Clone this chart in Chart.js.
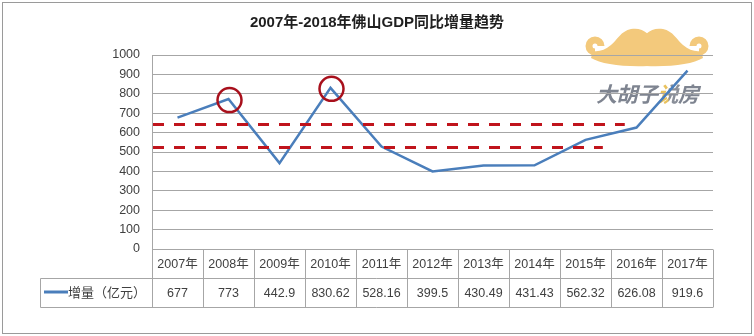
<!DOCTYPE html>
<html>
<head>
<meta charset="utf-8">
<script src="https://cdn.jsdelivr.net/npm/chart.js@4"></script>
<style>
    body { margin: 0; background: #fff; }
    #wrap { width: 754px; height: 336px; }
</style>
</head>
<body>
<div id="wrap"><canvas id="gdpChart" width="754" height="336"></canvas></div>
<script>
// Foshan GDP yearly increment (100 million yuan)
var years = ['2007年', '2008年', '2009年', '2010年', '2011年', '2012年', '2013年', '2014年', '2015年', '2016年', '2017年'];
var increments = [677, 773, 442.9, 830.62, 528.16, 399.5, 430.49, 431.43, 562.32, 626.08, 919.6];
var seriesName = '增量（亿元）';
var chartTitle = '2007年-2018年佛山GDP同比增量趋势';

// Dashed reference levels and the category position where each one stops
var refLevels = [643, 525];
var refEndAt = [8.77, 8.34];
// Years marked with a red ring
var circledYears = ['2008年', '2010年'];

var yMin = 0, yMax = 1000, yStep = 100;

var FONT = '"Liberation Sans", "Noto Sans CJK SC", sans-serif';
var lineColor = '#4A7EBB';
var textColor = '#404040';
var gridColor = '#A6A6A6';

// mustache + brand text behind the plot
function drawWatermark(ctx) {
    ctx.save();
    ctx.translate(647, 48);
    ctx.fillStyle = '#F3C97C';
    ctx.strokeStyle = '#F3C97C';
    [1, -1].forEach(side => {
        ctx.save();
        ctx.scale(side, 1);
        // one half of the body: hump on top, arm tapering out to the curl
        ctx.beginPath();
        ctx.moveTo(-1, -14);
        ctx.bezierCurveTo(4, -19, 10, -20, 16, -19);
        ctx.bezierCurveTo(26, -17, 30, -8, 36, -3);
        ctx.bezierCurveTo(42, 2, 48, 4, 54, 3);
        ctx.lineTo(56, 10);
        ctx.bezierCurveTo(46, 16, 25, 19, -1, 18);
        ctx.closePath();
        ctx.fill();
        // curled tip
        ctx.lineWidth = 7;
        ctx.beginPath();
        ctx.arc(52, -2, 6, Math.PI * 0.5, -Math.PI, true);
        ctx.stroke();
        ctx.restore();
    });
    ctx.restore();

    ctx.save();
    ctx.font = 'italic bold 21px "Noto Sans CJK SC"';
    ctx.textBaseline = 'middle';
    ctx.textAlign = 'left';
    var brand = '大胡子说房';
    var x = 596;
    for (var i = 0; i < brand.length; i++) {
        var ch = brand[i];
        var w = ctx.measureText(ch).width;
        if (ch === '说') {
            var g = ctx.createLinearGradient(x, 0, x + w, 0);
            g.addColorStop(0, '#E9C25E');
            g.addColorStop(0.5, '#E9C25E');
            g.addColorStop(0.55, '#8A8F99');
            g.addColorStop(1, '#8A8F99');
            ctx.fillStyle = g;
        } else {
            ctx.fillStyle = '#7E8490';
        }
        ctx.fillText(ch, x, 94);
        x += w - 0.5;
    }
    ctx.restore();
}

const decorPlugin = {
    id: 'decor',
    beforeDraw(chart) {
        const ctx = chart.ctx;
        ctx.save();
        ctx.fillStyle = '#fff';
        ctx.fillRect(0, 0, chart.width, chart.height);
        ctx.strokeStyle = '#9A9A9A';
        ctx.lineWidth = 1;
        ctx.strokeRect(2.5, 2.5, 749, 331);
        ctx.fillStyle = '#1F1F1F';
        ctx.font = 'bold 15px ' + FONT;
        ctx.textAlign = 'center';
        ctx.textBaseline = 'middle';
        ctx.fillText(chartTitle, 377, 23);
        ctx.restore();
        drawWatermark(ctx);
    },
    afterDatasetsDraw(chart) {
        const ctx = chart.ctx;
        const xs = chart.scales.x, ys = chart.scales.y;
        const area = chart.chartArea;
        ctx.save();
        // dashed reference lines
        ctx.strokeStyle = '#C0141C';
        ctx.lineWidth = 3;
        ctx.setLineDash([11, 10]);
        refLevels.forEach((v, i) => {
            const y = Math.round(ys.getPixelForValue(v)) + 0.5;
            ctx.beginPath();
            ctx.moveTo(area.left + 1, y);
            ctx.lineTo(xs.getPixelForValue(refEndAt[i]), y);
            ctx.stroke();
        });
        ctx.setLineDash([]);
        // rings round the peaks
        ctx.strokeStyle = '#A8101C';
        ctx.lineWidth = 2.5;
        circledYears.forEach(yr => {
            const i = years.indexOf(yr);
            const px = xs.getPixelForValue(i);
            const py = ys.getPixelForValue(increments[i]);
            ctx.beginPath();
            ctx.arc(px + 1, py + 1, 12, 0, Math.PI * 2);
            ctx.stroke();
        });
        ctx.restore();
    },
    afterDraw(chart) {
        // data table under the plot
        const ctx = chart.ctx;
        const xs = chart.scales.x;
        const area = chart.chartArea;
        const colW = (area.right - area.left) / years.length;
        const top = Math.round(area.bottom) + 0.5;
        const rowH = 28.5;
        const legendLeft = 40.5;
        ctx.save();
        ctx.strokeStyle = gridColor;
        ctx.lineWidth = 1;
        ctx.beginPath();
        ctx.moveTo(area.left, top); ctx.lineTo(area.right, top);
        ctx.moveTo(legendLeft, Math.round(top + rowH) + 0.5); ctx.lineTo(area.right, Math.round(top + rowH) + 0.5);
        ctx.moveTo(legendLeft, Math.round(top + rowH * 2) + 0.5); ctx.lineTo(area.right, Math.round(top + rowH * 2) + 0.5);
        ctx.moveTo(legendLeft, Math.round(top + rowH) + 0.5); ctx.lineTo(legendLeft, Math.round(top + rowH * 2) + 0.5);
        for (let i = 0; i <= years.length; i++) {
            const x = Math.round(area.left + colW * i) + 0.5;
            ctx.moveTo(x, top); ctx.lineTo(x, Math.round(top + rowH * 2) + 0.5);
        }
        ctx.stroke();

        ctx.fillStyle = textColor;
        ctx.font = '12.5px ' + FONT;
        ctx.textAlign = 'center';
        ctx.textBaseline = 'middle';
        years.forEach((yr, i) => {
            const cx = xs.getPixelForValue(i);
            ctx.fillText(yr, cx, top + rowH / 2 + 1);
            ctx.fillText(String(increments[i]), cx, top + rowH * 1.5 + 1);
        });

        // legend key in the first cell
        const ly = Math.round(top + rowH * 1.5);
        ctx.strokeStyle = lineColor;
        ctx.lineWidth = 3;
        ctx.beginPath();
        ctx.moveTo(44, ly); ctx.lineTo(68, ly);
        ctx.stroke();
        ctx.textAlign = 'left';
        ctx.font = '13px ' + FONT;
        ctx.fillText(seriesName, 68, top + rowH * 1.5 + 1);
        ctx.restore();
    }
};

const chart = new Chart('gdpChart', {
    type: 'line',
    data: {
        labels: years,
        datasets: [{
            label: seriesName,
            data: increments,
            borderColor: lineColor,
            borderWidth: 2.5,
            pointRadius: 0,
            tension: 0,
            fill: false
        }]
    },
    options: {
        responsive: false,
        animation: false,
        layout: { padding: { left: 12, top: 55, right: 41, bottom: 87 } },
        plugins: {
            legend: { display: false },
            title: { display: false },
            tooltip: { enabled: false }
        },
        scales: {
            x: { type: 'category', display: false, offset: true },
            y: {
                min: yMin,
                max: yMax,
                ticks: {
                    stepSize: yStep,
                    padding: 12,
                    color: textColor,
                    font: { family: FONT, size: 12.5 },
                    callback: v => String(v)
                },
                grid: { color: gridColor, drawTicks: false },
                border: { color: gridColor },
                afterFit: s => { s.width = 140; }
            }
        }
    },
    plugins: [decorPlugin]
});
</script>
</body>
</html>
